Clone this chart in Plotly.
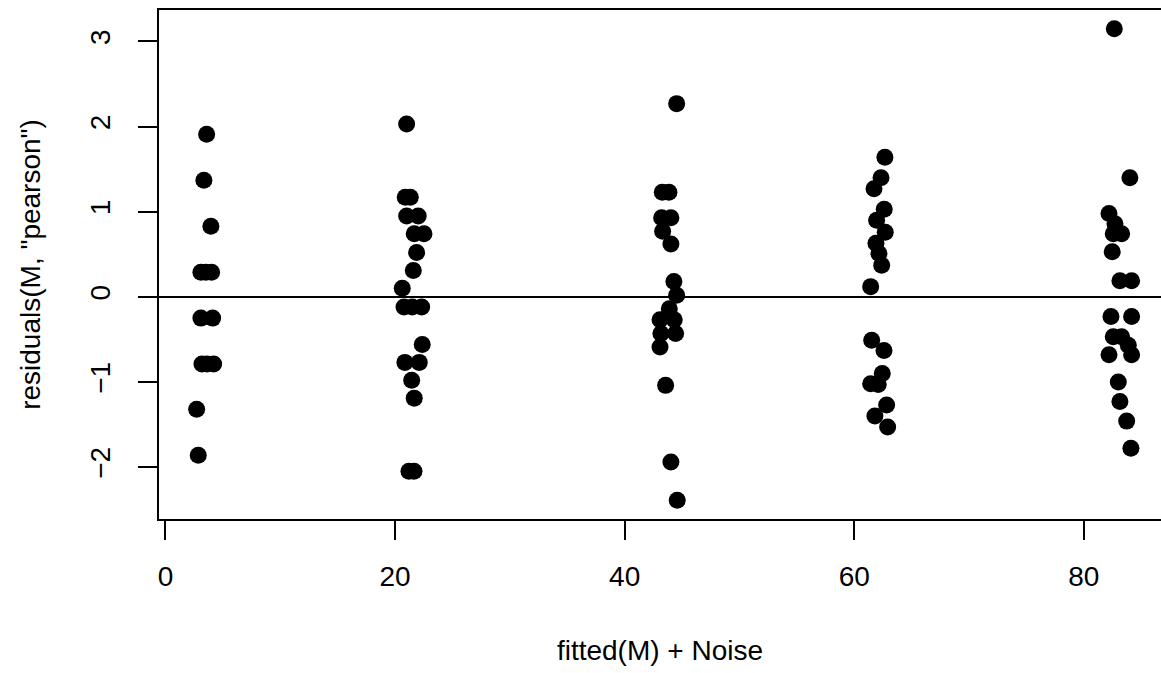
import plotly.graph_objects as go

# fitted(M) + Noise and Pearson residuals, one pair of lists per fitted level
x_g1 = [3.59, 3.35, 3.96, 3.09, 3.53, 4.02, 3.09, 4.11, 3.18, 3.62, 4.20, 2.72, 2.86]
r_g1 = [1.91, 1.37, 0.83, 0.29, 0.29, 0.29, -0.25, -0.25, -0.79, -0.79, -0.79, -1.32, -1.86]

x_g2 = [21.01, 20.89, 21.33, 21.01, 22.02, 21.67, 22.52, 21.88, 21.59, 20.63,
        20.78, 21.50, 22.32, 22.37, 20.86, 22.11, 21.45, 21.67, 21.21, 21.65]
r_g2 = [2.03, 1.17, 1.17, 0.95, 0.95, 0.74, 0.74, 0.52, 0.31, 0.10,
        -0.12, -0.12, -0.12, -0.56, -0.77, -0.77, -0.98, -1.19, -2.05, -2.05]

x_g3 = [44.53, 43.28, 43.86, 43.22, 44.03, 43.31, 44.03, 44.29, 44.53, 43.89,
        43.08, 44.32, 43.16, 44.44, 43.08, 43.57, 44.03, 44.58]
r_g3 = [2.27, 1.23, 1.23, 0.93, 0.93, 0.77, 0.62, 0.18, 0.02, -0.14,
        -0.27, -0.27, -0.43, -0.43, -0.59, -1.04, -1.94, -2.39]

x_g4 = [62.67, 62.33, 61.72, 62.61, 61.95, 62.70, 61.89, 62.15, 62.39, 61.43,
        61.52, 62.59, 62.44, 61.43, 62.09, 62.82, 61.80, 62.91]
r_g4 = [1.64, 1.40, 1.27, 1.03, 0.90, 0.76, 0.63, 0.51, 0.37, 0.12,
        -0.51, -0.63, -0.90, -1.02, -1.03, -1.27, -1.40, -1.53]

x_g5 = [82.65, 84.01, 82.19, 82.71, 82.56, 83.29, 82.47, 83.14, 84.16, 82.36,
        84.16, 82.56, 83.29, 83.87, 82.19, 84.16, 83.00, 83.14, 83.73, 84.10]
r_g5 = [3.15, 1.40, 0.98, 0.86, 0.74, 0.74, 0.53, 0.19, 0.19, -0.23,
        -0.23, -0.47, -0.47, -0.57, -0.68, -0.68, -1.00, -1.23, -1.46, -1.78]

x_ticks = [0, 20, 40, 60, 80]
y_ticks = [-2, -1, 0, 1, 2, 3]

fitted_noise = x_g1 + x_g2 + x_g3 + x_g4 + x_g5
resid = r_g1 + r_g2 + r_g3 + r_g4 + r_g5

FONT = "Liberation Sans, Arial, Helvetica, sans-serif"
FSIZE = 28

fig = go.Figure(
    go.Scatter(
        x=fitted_noise,
        y=resid,
        mode="markers",
        marker=dict(size=17, color="black", line=dict(width=0)),
        hoverinfo="x+y",
    )
)

axis_common = dict(
    showgrid=False,
    ticks="outside",
    ticklen=19,
    tickwidth=1.8,
    tickcolor="black",
    showline=True,
    linecolor="black",
    linewidth=1.8,
    tickfont=dict(family=FONT, size=FSIZE, color="black"),
)

fig.update_layout(
    width=1161,
    height=673,
    margin=dict(l=159, r=0, t=10, b=154, pad=0),
    plot_bgcolor="white",
    paper_bgcolor="white",
    showlegend=False,
    font=dict(family=FONT, size=FSIZE, color="black"),
    xaxis=dict(
        range=[-0.56, 86.72],
        tickvals=x_ticks,
        zeroline=False,
        mirror=True,
        ticklabelstandoff=12,
        title=dict(text="fitted(M) + Noise", standoff=50,
                   font=dict(family=FONT, size=FSIZE, color="black")),
        **axis_common,
    ),
    yaxis=dict(
        range=[-2.61, 3.37],
        tickvals=y_ticks,
        tickangle=-90,
        zeroline=True,
        zerolinecolor="black",
        zerolinewidth=1.8,
        ticklabelstandoff=17,
        title=dict(text='residuals(M, "pearson")', standoff=36,
                   font=dict(family=FONT, size=FSIZE, color="black")),
        **axis_common,
    ),
)

fig.write_html("out.html")
